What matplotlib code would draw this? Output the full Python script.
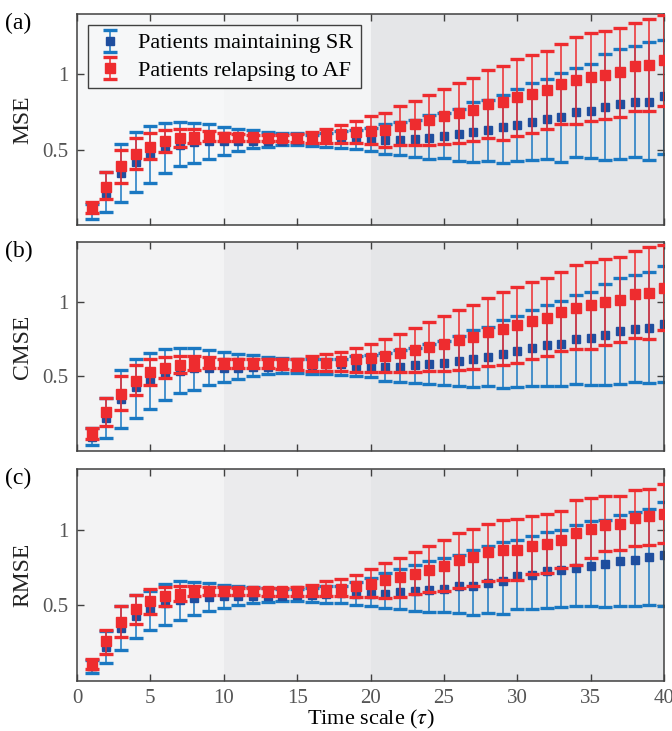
import numpy as np
import matplotlib
matplotlib.use('Agg')
import matplotlib.pyplot as plt

plt.rcParams['font.family'] = ['Liberation Serif', 'DejaVu Serif']
plt.rcParams['mathtext.fontset'] = 'stix'

scales = np.arange(1, 41)

# (a) MSE
sr_mean_a = [0.11, 0.215, 0.345, 0.42, 0.47, 0.51, 0.53, 0.55, 0.555, 0.555, 0.555, 0.555, 0.56, 0.56, 0.565, 0.57, 0.575,
             0.58, 0.571, 0.567, 0.562, 0.567, 0.571, 0.58, 0.593, 0.602, 0.62, 0.633, 0.649, 0.666, 0.686, 0.706, 0.715,
             0.748, 0.755, 0.784, 0.801, 0.817, 0.819, 0.855]
sr_hi_a = [0.14, 0.35, 0.54, 0.615, 0.655, 0.68, 0.685, 0.68, 0.67, 0.65, 0.64, 0.63, 0.62, 0.61, 0.61, 0.60, 0.61,
           0.622, 0.633, 0.646, 0.672, 0.686, 0.699, 0.733, 0.743, 0.77, 0.814, 0.832, 0.865, 0.90, 0.94, 0.969, 1.007,
           1.04, 1.069, 1.133, 1.167, 1.185, 1.212, 1.23]
sr_lo_a = [0.04, 0.085, 0.155, 0.22, 0.28, 0.345, 0.39, 0.41, 0.44, 0.467, 0.49, 0.51, 0.52, 0.53, 0.53, 0.525, 0.515,
           0.508, 0.502, 0.493, 0.471, 0.464, 0.453, 0.435, 0.442, 0.427, 0.42, 0.427, 0.413, 0.424, 0.431, 0.435, 0.42,
           0.453, 0.442, 0.431, 0.435, 0.449, 0.431, 0.471]
af_mean_a = [0.115, 0.255, 0.39, 0.47, 0.52, 0.555, 0.58, 0.585, 0.59, 0.585, 0.585, 0.585, 0.58, 0.58, 0.58, 0.58, 0.59,
             0.604, 0.615, 0.626, 0.633, 0.66, 0.672, 0.695, 0.72, 0.743, 0.765, 0.80, 0.814, 0.847, 0.867, 0.898, 0.936,
             0.96, 0.982, 0.998, 1.013, 1.053, 1.064, 1.093]
af_hi_a = [0.153, 0.35, 0.50, 0.58, 0.61, 0.63, 0.64, 0.635, 0.625, 0.61, 0.605, 0.60, 0.60, 0.60, 0.605, 0.62, 0.64,
           0.665, 0.687, 0.72, 0.743, 0.787, 0.82, 0.86, 0.90, 0.94, 0.973, 1.03, 1.056, 1.10, 1.125, 1.156, 1.20,
           1.246, 1.272, 1.288, 1.305, 1.343, 1.367, 1.394]
af_lo_a = [0.08, 0.17, 0.28, 0.37, 0.44, 0.485, 0.52, 0.545, 0.56, 0.56, 0.56, 0.56, 0.56, 0.555, 0.55, 0.545, 0.545,
           0.541, 0.541, 0.537, 0.519, 0.528, 0.528, 0.532, 0.537, 0.545, 0.559, 0.574, 0.567, 0.59, 0.611, 0.637, 0.672,
           0.672, 0.687, 0.705, 0.716, 0.754, 0.754, 0.791]

# (b) CMSE
sr_mean_b = [0.097, 0.222, 0.35, 0.427, 0.471, 0.515, 0.537, 0.553, 0.559, 0.559, 0.559, 0.566, 0.566, 0.57, 0.57, 0.575, 0.581,
             0.58, 0.57, 0.566, 0.564, 0.566, 0.575, 0.581, 0.588, 0.603, 0.614, 0.632, 0.65, 0.669, 0.689, 0.707, 0.718,
             0.747, 0.755, 0.78, 0.806, 0.819, 0.824, 0.853]
sr_hi_b = [0.155, 0.356, 0.542, 0.614, 0.659, 0.681, 0.688, 0.688, 0.674, 0.663, 0.65, 0.64, 0.632, 0.625, 0.619, 0.619, 0.619,
           0.614, 0.636, 0.64, 0.659, 0.674, 0.692, 0.714, 0.735, 0.769, 0.808, 0.831, 0.879, 0.907, 0.945, 0.978, 1.007,
           1.044, 1.066, 1.122, 1.161, 1.177, 1.198, 1.236]
sr_lo_b = [0.041, 0.085, 0.156, 0.222, 0.284, 0.343, 0.39, 0.411, 0.442, 0.464, 0.482, 0.504, 0.515, 0.522, 0.522, 0.515, 0.515,
           0.509, 0.5, 0.493, 0.471, 0.46, 0.456, 0.447, 0.443, 0.438, 0.427, 0.434, 0.421, 0.427, 0.434, 0.438, 0.434,
           0.449, 0.445, 0.445, 0.449, 0.464, 0.456, 0.464]
af_mean_b = [0.112, 0.262, 0.383, 0.471, 0.526, 0.555, 0.575, 0.588, 0.592, 0.588, 0.588, 0.588, 0.588, 0.588, 0.588, 0.592, 0.592,
             0.603, 0.614, 0.626, 0.636, 0.659, 0.674, 0.698, 0.72, 0.742, 0.764, 0.795, 0.819, 0.844, 0.874, 0.894, 0.934,
             0.96, 0.976, 1.0, 1.011, 1.051, 1.06, 1.095]
af_hi_b = [0.151, 0.354, 0.504, 0.577, 0.614, 0.63, 0.636, 0.636, 0.632, 0.619, 0.614, 0.614, 0.619, 0.619, 0.619, 0.636, 0.65,
           0.665, 0.692, 0.718, 0.747, 0.786, 0.824, 0.861, 0.905, 0.943, 0.978, 1.022, 1.062, 1.099, 1.13, 1.161, 1.198,
           1.245, 1.267, 1.289, 1.302, 1.342, 1.364, 1.382]
af_lo_b = [0.081, 0.169, 0.277, 0.372, 0.442, 0.487, 0.52, 0.544, 0.553, 0.553, 0.553, 0.553, 0.553, 0.548, 0.544, 0.537, 0.537,
           0.537, 0.53, 0.53, 0.526, 0.526, 0.53, 0.535, 0.537, 0.542, 0.548, 0.57, 0.577, 0.588, 0.619, 0.636, 0.667,
           0.68, 0.685, 0.709, 0.729, 0.76, 0.753, 0.813]

# (c) RMSE
sr_mean_c = [0.097, 0.225, 0.35, 0.427, 0.472, 0.516, 0.538, 0.549, 0.553, 0.56, 0.564, 0.564, 0.564, 0.564, 0.566, 0.57, 0.577,
             0.582, 0.575, 0.577, 0.577, 0.586, 0.593, 0.6, 0.608, 0.626, 0.63, 0.648, 0.663, 0.696, 0.703, 0.725, 0.736,
             0.747, 0.758, 0.773, 0.791, 0.802, 0.817, 0.835]
sr_hi_c = [0.14, 0.328, 0.498, 0.571, 0.597, 0.643, 0.659, 0.652, 0.648, 0.636, 0.626, 0.621, 0.615, 0.608, 0.608, 0.615, 0.626,
           0.626, 0.652, 0.681, 0.714, 0.74, 0.764, 0.791, 0.813, 0.835, 0.868, 0.89, 0.916, 0.934, 0.956, 0.982, 1.0,
           1.033, 1.055, 1.066, 1.093, 1.114, 1.137, 1.18]
sr_lo_c = [0.053, 0.119, 0.207, 0.285, 0.339, 0.368, 0.405, 0.439, 0.46, 0.483, 0.505, 0.518, 0.524, 0.53, 0.53, 0.524, 0.518,
           0.516, 0.505, 0.498, 0.483, 0.476, 0.465, 0.454, 0.454, 0.45, 0.439, 0.45, 0.443, 0.476, 0.476, 0.48, 0.489,
           0.494, 0.494, 0.489, 0.494, 0.498, 0.505, 0.498]
af_mean_c = [0.108, 0.262, 0.39, 0.476, 0.527, 0.56, 0.577, 0.593, 0.593, 0.593, 0.595, 0.595, 0.595, 0.595, 0.595, 0.60, 0.60,
             0.608, 0.626, 0.643, 0.665, 0.687, 0.709, 0.736, 0.762, 0.797, 0.817, 0.85, 0.863, 0.868, 0.894, 0.908, 0.934,
             0.978, 1.007, 1.033, 1.04, 1.077, 1.088, 1.106]
af_hi_c = [0.148, 0.339, 0.498, 0.571, 0.608, 0.621, 0.626, 0.626, 0.621, 0.62, 0.615, 0.615, 0.615, 0.615, 0.62, 0.636, 0.659,
           0.674, 0.698, 0.74, 0.78, 0.813, 0.85, 0.89, 0.934, 0.978, 1.004, 1.04, 1.062, 1.07, 1.088, 1.106, 1.125,
           1.194, 1.209, 1.225, 1.225, 1.264, 1.269, 1.302]
af_lo_c = [0.08, 0.181, 0.291, 0.379, 0.445, 0.498, 0.531, 0.56, 0.571, 0.571, 0.571, 0.571, 0.56, 0.56, 0.56, 0.56, 0.56,
           0.56, 0.555, 0.553, 0.549, 0.555, 0.577, 0.586, 0.593, 0.615, 0.626, 0.659, 0.665, 0.665, 0.707, 0.714, 0.747,
           0.769, 0.813, 0.857, 0.863, 0.89, 0.897, 0.912]

panel_names = ['MSE', 'CMSE', 'RMSE']
panel_tags = ['(a)', '(b)', '(c)']
band_edges = [0, 10, 20, 40]

blue_line = '#1a78c2'
blue_mark = '#1f4e9e'
red = '#ee2c2f'


def draw_panel(ax, sr, af, shades):
    # background bands for the three scale ranges
    for (lo, hi), c in zip(zip(band_edges[:-1], band_edges[1:]), shades):
        ax.axvspan(lo, hi, color=c, lw=0, zorder=0)

    m, lo, hi = [np.array(v) for v in sr]
    ax.errorbar(scales, m, yerr=[m - lo, hi - m], fmt='s', color=blue_line, mfc=blue_mark, mec=blue_mark,
                ms=6, elinewidth=1.1, capsize=5, capthick=2.4, label='Patients maintaining SR', zorder=2)
    m, lo, hi = [np.array(v) for v in af]
    ax.errorbar(scales, m, yerr=[m - lo, hi - m], fmt='s', color=red, mfc=red, mec=red,
                ms=6.5, elinewidth=1.1, capsize=5, capthick=2.4, label='Patients relapsing to AF', zorder=3)

    ax.set_xlim(0, 40)
    ax.set_ylim(0, 1.4)
    ax.set_xticks([0, 5, 10, 15, 20, 25, 30, 35, 40])
    ax.set_yticks([0.5, 1])
    ax.set_yticklabels(['0.5', '1'])
    ax.tick_params(direction='in', top=True, right=True, length=5, width=1, color='#404040',
                   labelsize=15, labelcolor='#555555', pad=6)
    for s in ax.spines.values():
        s.set_color('#404040')
        s.set_linewidth(1.1)


fig = plt.figure(figsize=(6.72, 7.31), dpi=100)
left, width = 77 / 672, 587 / 672
tops = [14, 242, 469]
bottoms = [225, 451, 681]

data = [
    ((sr_mean_a, sr_lo_a, sr_hi_a), (af_mean_a, af_lo_a, af_hi_a)),
    ((sr_mean_b, sr_lo_b, sr_hi_b), (af_mean_b, af_lo_b, af_hi_b)),
    ((sr_mean_c, sr_lo_c, sr_hi_c), (af_mean_c, af_lo_c, af_hi_c)),
]
shade_sets = [
    ['#f6f7f8', '#f3f4f5', '#e5e6e8'],
    ['#f3f3f4', '#ebebed', '#e5e6e8'],
    ['#f3f3f4', '#ebebed', '#e5e6e8'],
]

axes = []
for i in range(3):
    ax = fig.add_axes([left, 1 - bottoms[i] / 731, width, (bottoms[i] - tops[i]) / 731])
    draw_panel(ax, data[i][0], data[i][1], shade_sets[i])
    ax.set_ylabel(panel_names[i], fontsize=17, color='#222222')
    ax.yaxis.set_label_coords(-0.075, 0.5)
    fig.text(5 / 672, 1 - (tops[i] + 9) / 731, panel_tags[i], fontsize=17, va='center', ha='left')
    if i < 2:
        ax.set_xticklabels([])
    axes.append(ax)

leg = axes[0].legend(loc='upper left', fontsize=16, frameon=True, fancybox=False, framealpha=1,
                     facecolor='#f6f7f8', edgecolor='#404040', handlelength=1.3, handletextpad=0.6,
                     borderpad=0.35, labelspacing=0.3, borderaxespad=0.5)
leg.get_frame().set_linewidth(1.0)

# x label placed just under the tick labels, inside the figure
fig.text((77 + 664) / 2 / 672, 1 - 719 / 731, r'Time scale ($\tau$)', fontsize=16, ha='center', va='center')

plt.savefig('out.png', dpi=100)
